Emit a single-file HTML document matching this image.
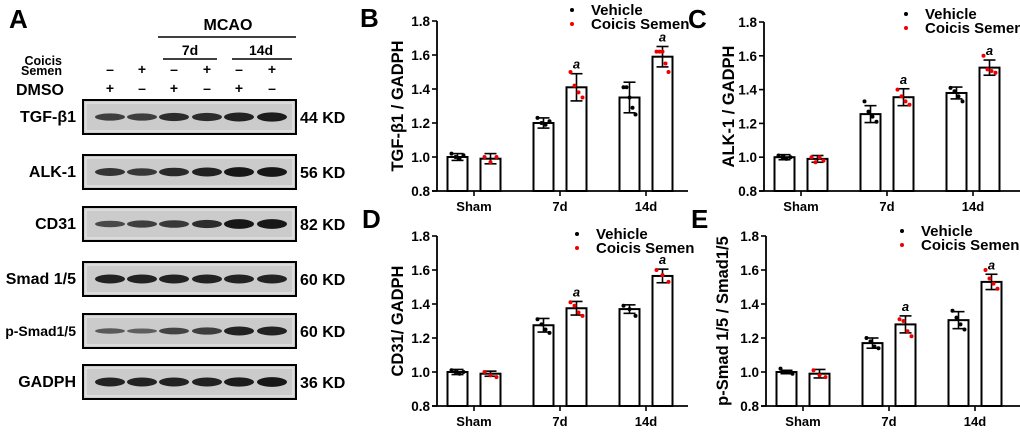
<!DOCTYPE html>
<html><head><meta charset="utf-8"><style>
html,body{margin:0;padding:0;background:#fff;}
svg{display:block;font-family:"Liberation Sans",Arial,sans-serif;font-weight:bold;}
</style></head><body>
<svg id="fig" width="1020" height="432" viewBox="0 0 1020 432" xmlns="http://www.w3.org/2000/svg">
<g id="blot">
<text x="9" y="28" font-size="26">A</text>
<text x="228" y="30" font-size="16" text-anchor="middle">MCAO</text>
<line x1="158" y1="37" x2="296" y2="37" stroke="#000" stroke-width="1.5"/>
<text x="190" y="55" font-size="14" text-anchor="middle">7d</text>
<line x1="163" y1="59" x2="217" y2="59" stroke="#000" stroke-width="1.5"/>
<text x="261" y="55" font-size="14" text-anchor="middle">14d</text>
<line x1="232" y1="59" x2="292" y2="59" stroke="#000" stroke-width="1.5"/>
<text x="62" y="65" font-size="12.5" text-anchor="end">Coicis</text>
<text x="62" y="75" font-size="12.5" text-anchor="end">Semen</text>
<text x="64" y="95" font-size="16" text-anchor="end">DMSO</text>
</g>
<g id="charts"></g>
</svg>
<script>
const NS='http://www.w3.org/2000/svg';
function mk(p,tag,at,txt){const e=document.createElementNS(NS,tag);for(const k in at)e.setAttribute(k,at[k]);if(txt!==undefined)e.textContent=txt;p.appendChild(e);return e;}
const svg=document.getElementById('fig');
const blot=document.getElementById('blot');
// ---- blot data ----
const laneCoicis=['–','+','–','+','–','+'];
const laneDMSO=['+','–','+','–','+','–'];
const proteins=['TGF-β1','ALK-1','CD31','Smad 1/5','p-Smad1/5','GADPH'];
const weights=['44 KD','56 KD','82 KD','60 KD','60 KD','36 KD'];
const bandIntensity=[[0.6,0.6,0.75,0.75,0.85,0.9],[0.7,0.65,0.8,0.85,0.95,0.95],[0.5,0.6,0.65,0.75,0.95,0.95],[0.85,0.85,0.85,0.85,0.85,0.85],[0.35,0.3,0.55,0.6,0.85,0.85],[0.85,0.85,0.85,0.85,0.9,0.95]];
const laneX=[110,142,174,207,239,272];
const rowY=[100,155,207,262,314,365];
laneX.forEach((x,i)=>{
 const a=mk(blot,'text',{x:x,y:74,'font-size':14,'text-anchor':'middle'},laneCoicis[i]);
 
 
 const b=mk(blot,'text',{x:x,y:93,'font-size':14,'text-anchor':'middle'},laneDMSO[i]);
 
 
});
proteins.forEach((p,r)=>{
 const y=rowY[r];
 const box=mk(blot,'rect',{x:83,y:y,width:213,height:34,fill:'#cbcbcb',stroke:'#000','stroke-width':2});
 
 
 mk(blot,'rect',{x:86,y:y+3,width:207,height:28,fill:'none',stroke:'#eee','stroke-width':1});
 laneX.forEach((x,i)=>{
  const v=bandIntensity[r][i];
  const bd=mk(blot,'ellipse',{cx:x,cy:y+17,rx:15,ry:1.5+v*3.5,fill:'#111','fill-opacity':0.4+v*0.6});
  
  
 });
 const l=mk(blot,'text',{x:76,y:y+22,'font-size':p.length>8?14:16,'text-anchor':'end'},p);
 
 
 const w=mk(blot,'text',{x:300,y:y+23,'font-size':16},weights[r]);
 
 
});
// ---- chart data ----
const categories=['Sham','7d','14d'];
const yTicks=[0.8,1.0,1.2,1.4,1.6,1.8];
const seriesNames=['Vehicle','Coicis Semen'];
const bVeh=[1.0,1.2,1.35], bVehSd=[0.02,0.03,0.09];
const bCS=[0.99,1.41,1.59], bCSSd=[0.03,0.08,0.06];
const bVehPts=[[1.02,1.0,0.99,1.01],[1.23,1.2,1.19,1.21],[1.41,1.41,1.35,1.29,1.25]];
const bCSPts=[[1.0,0.97,1.0],[1.5,1.42,1.38,1.35],[1.62,1.62,1.62,1.55,1.5]];
const cVeh=[1.0,1.255,1.38], cVehSd=[0.015,0.05,0.035];
const cCS=[0.99,1.355,1.53], cCSSd=[0.02,0.05,0.045];
const cVehPts=[[1.01,1.0,0.99,1.0],[1.33,1.27,1.24,1.21],[1.41,1.39,1.36,1.33]];
const cCSPts=[[1.0,0.97,1.0,0.98],[1.4,1.36,1.33,1.31],[1.6,1.52,1.51,1.5]];
const dVeh=[1.0,1.275,1.37], dVehSd=[0.015,0.04,0.025];
const dCS=[0.99,1.375,1.565], dCSSd=[0.015,0.04,0.04];
const dVehPts=[[1.01,1.0,0.99,1.0],[1.31,1.28,1.25,1.23],[1.39,1.37,1.33]];
const dCSPts=[[1.0,0.98,0.97],[1.41,1.39,1.35,1.33],[1.6,1.57,1.53]];
const eVeh=[1.0,1.17,1.305], eVehSd=[0.01,0.03,0.05];
const eCS=[0.99,1.28,1.53], eCSSd=[0.025,0.05,0.045];
const eVehPts=[[1.02,1.0,1.0,0.99],[1.2,1.18,1.15,1.14],[1.36,1.32,1.28,1.25]];
const eCSPts=[[1.01,0.98,0.97],[1.31,1.3,1.24,1.21],[1.6,1.55,1.52,1.49]];
const sigAbove=[false,true,true];
const panels=[
 {L:'B',title:'TGF-β1 / GADPH',ax:437,y0:191,y1:21,xEnd:688,lx:360,ly:20,leg:[572,11],tx:397,v:bVeh,vs:bVehSd,c:bCS,cs:bCSSd,vp:bVehPts,cp:bCSPts},
 {L:'C',title:'ALK-1 / GADPH',ax:764,y0:191,y1:22,xEnd:1020,lx:688,ly:21,leg:[906,15],tx:728,v:cVeh,vs:cVehSd,c:cCS,cs:cCSSd,vp:cVehPts,cp:cCSPts},
 {L:'D',title:'CD31/ GADPH',ax:437,y0:406,y1:236,xEnd:688,lx:362,ly:221,leg:[577,235],tx:397,v:dVeh,vs:dVehSd,c:dCS,cs:dCSSd,vp:dVehPts,cp:dCSPts},
 {L:'E',title:'p-Smad 1/5 / Smad1/5',ax:766,y0:406,y1:236,xEnd:1020,lx:691,ly:221,leg:[902,232],tx:722,v:eVeh,vs:eVehSd,c:eCS,cs:eCSSd,vp:eVehPts,cp:eCSPts}
];
const root=document.getElementById('charts');
panels.forEach(P=>{
 const g=mk(root,'g',{});
 
 
 const ys=v=>P.y0+(v-0.8)/(1.8-0.8)*(P.y1-P.y0);
 const grp=i=>P.ax+37+i*86;
 const lab=mk(g,'text',{x:P.lx,y:P.ly+7,'font-size':26},P.L);
 
 
 const yt=mk(g,'text',{x:P.tx,y:(P.y0+P.y1)/2,'font-size':16.5,'text-anchor':'middle',transform:`rotate(-90 ${P.tx} ${(P.y0+P.y1)/2})`,dy:6},P.title);
 
 
 categories.forEach((cat,i)=>{
  const c=grp(i);
  [[P.v,P.vs,P.vp,'#000',-16.5],[P.c,P.cs,P.cp,'#e00',16.5]].forEach((s,si)=>{
   const cx=c+s[4], top=ys(s[0][i]);
   const r=mk(g,'rect',{x:cx-10,y:top,width:20,height:P.y0-top,fill:'#fff',stroke:'#000','stroke-width':2});
   
   
   const hi=ys(s[0][i]+s[1][i]), lo=ys(s[0][i]-s[1][i]);
   mk(g,'line',{x1:cx,y1:hi,x2:cx,y2:lo,stroke:'#000','stroke-width':1.6});
   mk(g,'line',{x1:cx-6,y1:hi,x2:cx+6,y2:hi,stroke:'#000','stroke-width':1.6});
   mk(g,'line',{x1:cx-6,y1:lo,x2:cx+6,y2:lo,stroke:'#000','stroke-width':1.6});
   const n=s[2][i].length;
   s[2][i].forEach((pv,k)=>{
    const d=mk(g,'circle',{cx:cx-6+(n>1?12*k/(n-1):6),cy:ys(pv),r:2,fill:s[3]});
    
    
   });
   if(si===1&&sigAbove[i]){
    const a=mk(g,'text',{x:cx,y:hi-5,'font-size':13,'font-style':'italic','text-anchor':'middle'},'a');
    
    
   }
  });
  mk(g,'line',{x1:c,y1:P.y0,x2:c,y2:P.y0+5,stroke:'#000','stroke-width':1.6});
  const xl=mk(g,'text',{x:c,y:P.y0+20,'font-size':13,'text-anchor':'middle'},cat);
  
  
 });
 mk(g,'line',{x1:P.ax,y1:P.y1,x2:P.ax,y2:P.y0,stroke:'#000','stroke-width':1.8});
 mk(g,'line',{x1:P.ax-5,y1:P.y0,x2:P.xEnd,y2:P.y0,stroke:'#000','stroke-width':1.8});
 yTicks.forEach(t=>{
  mk(g,'line',{x1:P.ax-5,y1:ys(t),x2:P.ax,y2:ys(t),stroke:'#000','stroke-width':1.6});
  const tl=mk(g,'text',{x:P.ax-7,y:ys(t)+5,'font-size':13.5,'text-anchor':'end'},t.toFixed(1));
  
  
 });
 seriesNames.forEach((nm,k)=>{
  const ly=P.leg[1]+k*14;
  mk(g,'circle',{cx:P.leg[0],cy:ly-1,r:2,fill:k?'#e00':'#000'});
  const t=mk(g,'text',{x:P.leg[0]+19,y:ly+4,'font-size':15},nm);
  
  
 });
});
</script>
</body></html>
